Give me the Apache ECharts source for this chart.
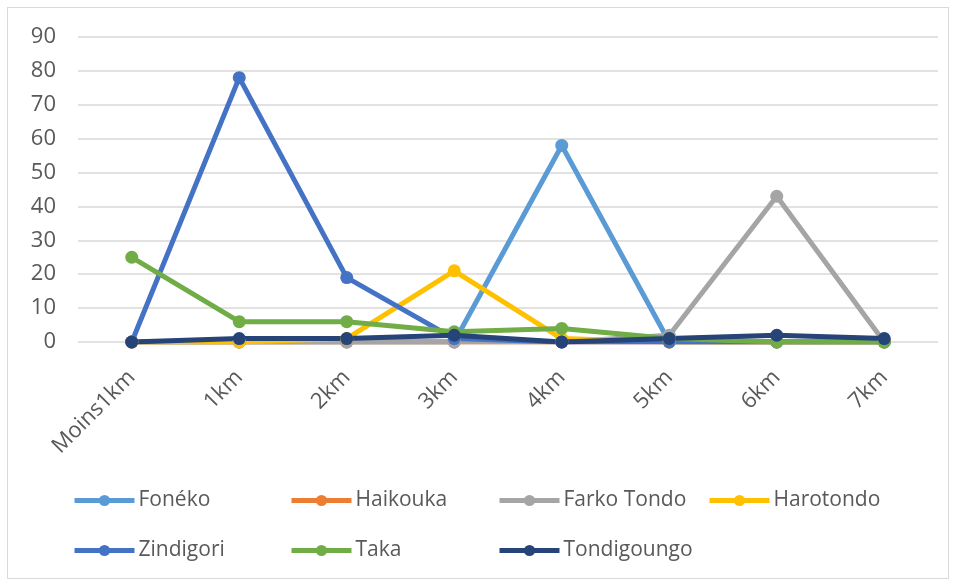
<!DOCTYPE html>
<html>
<head>
<meta charset="utf-8">
<script src="https://cdn.jsdelivr.net/npm/echarts@6/dist/echarts.min.js"></script>
<style>
  html, body { margin: 0; padding: 0; background: #fff; }
  #frame { position: absolute; left: 7px; top: 7px; width: 942px; height: 572px; border: 1px solid #d9d9d9; box-sizing: border-box; }
  #chart { width: 957px; height: 587px; }
</style>
</head>
<body>
<div id="frame"></div>
<div id="chart"></div>
<script>
// Distance classes
const categories = ['Moins1km', '1km', '2km', '3km', '4km', '5km', '6km', '7km'];

// Counts per village
const foneko      = [0, 0, 0, 0, 58, 0, 0, 0];
const haikouka    = [0, 0, 0, 0, 0, 0, 0, 0];
const farkoTondo  = [0, 0, 0, 0, 0, 2, 43, 0];
const harotondo   = [0, 0, 1, 21, 1, 0, 0, 0];
const zindigori   = [0, 78, 19, 1, 0, 0, 0, 0];
const taka        = [25, 6, 6, 3, 4, 1, 0, 0];
const tondigoungo = [0, 1, 1, 2, 0, 1, 2, 1];

const yTicks = [0, 10, 20, 30, 40, 50, 60, 70, 80, 90];

const seriesDefs = [
  { name: 'Fonéko',      data: foneko,      color: '#5B9BD5' },
  { name: 'Haikouka',    data: haikouka,    color: '#ED7D31' },
  { name: 'Farko Tondo', data: farkoTondo,  color: '#A5A5A5' },
  { name: 'Harotondo',   data: harotondo,   color: '#FFC000' },
  { name: 'Zindigori',   data: zindigori,   color: '#4472C4' },
  { name: 'Taka',        data: taka,        color: '#70AD47' },
  { name: 'Tondigoungo', data: tondigoungo, color: '#264478' }
];

const FONT = '"Open Sans", "DejaVu Sans", sans-serif';

// Legend slots laid out as a two-row grid
const legendSlots = [
  { left: 72,  top: 490 }, { left: 289, top: 490 }, { left: 497, top: 490 }, { left: 707, top: 490 },
  { left: 72,  top: 540 }, { left: 289, top: 540 }, { left: 497, top: 540 }
];

const chart = echarts.init(document.getElementById('chart'), null, { renderer: 'canvas' });

chart.setOption({
  animation: false,
  backgroundColor: 'transparent',
  color: seriesDefs.map(s => s.color),
  legend: seriesDefs.map((s, i) => ({
    data: [s.name],
    left: legendSlots[i].left,
    top: legendSlots[i].top,
    itemWidth: 60,
    itemHeight: 14,
    itemGap: 0,
    padding: 0,
    selectedMode: false,
    lineStyle: { width: 5 },
    textStyle: { color: '#595959', fontSize: 21, fontFamily: FONT, padding: [0, 0, 0, -1] }
  })),
  grid: { left: 78, right: 19, top: 37, bottom: 245, containLabel: false },
  xAxis: {
    type: 'category',
    data: categories,
    boundaryGap: true,
    axisLine: { show: false },
    axisTick: { show: false },
    axisLabel: {
      rotate: 45,
      color: '#595959',
      fontSize: 22,
      fontFamily: FONT,
      margin: 32
    }
  },
  yAxis: {
    type: 'value',
    min: yTicks[0],
    max: yTicks[yTicks.length - 1],
    interval: 10,
    axisLine: { show: false },
    axisTick: { show: false },
    splitLine: { lineStyle: { color: '#d9d9d9', width: 1.5 } },
    axisLabel: { color: '#595959', fontSize: 22, fontFamily: FONT, margin: 22 }
  },
  series: seriesDefs.map(s => ({
    name: s.name,
    type: 'line',
    data: s.data,
    symbol: 'circle',
    symbolSize: 13,
    showSymbol: true,
    lineStyle: { width: 5, color: s.color },
    itemStyle: { color: s.color },
    emphasis: { disabled: true }
  }))
});
</script>
</body>
</html>
